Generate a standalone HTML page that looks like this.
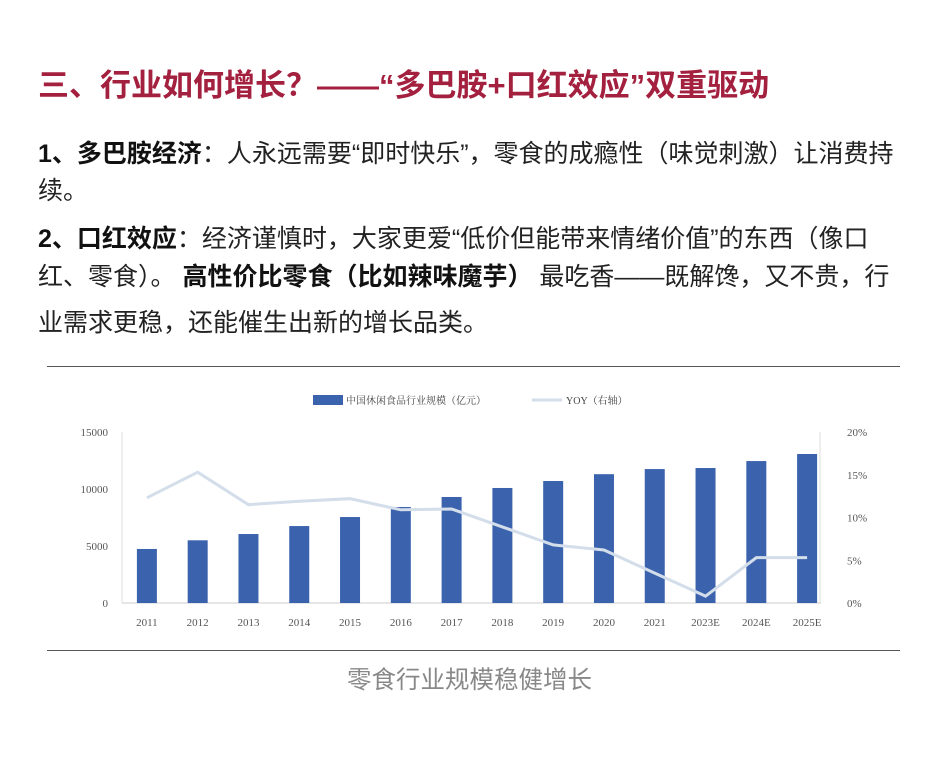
<!DOCTYPE html>
<html><head><meta charset="utf-8"><style>
body{margin:0;width:939px;height:767px;background:#fff;position:relative;overflow:hidden;font-family:"Liberation Sans","Noto Sans CJK SC",sans-serif;}
.t{position:absolute;white-space:nowrap;}
.title{left:38px;top:60px;font-size:31px;font-weight:bold;color:#a3203f;}
.line{left:38px;font-size:25px;color:#222;}
.line b{color:#111}
.rule{position:absolute;left:47px;width:853px;height:1px;background:#555;}
.cap{left:0;width:939px;text-align:center;top:661px;font-size:24.5px;color:#888;}
</style></head><body>
<div class="t title">三、行业如何增长？——“多巴胺+口红效应”双重驱动</div>
<div class="t line" style="top:134px"><b>1、多巴胺经济</b>：人永远需要“即时快乐”，零食的成瘾性（味觉刺激）让消费持</div>
<div class="t line" style="top:171px">续。</div>
<div class="t line" style="top:219px"><b>2、口红效应</b>：经济谨慎时，大家更爱“低价但能带来情绪价值”的东西（像口</div>
<div class="t line" style="top:257px">红、零食）。 <b>高性价比零食（比如辣味魔芋）</b> 最吃香——既解馋，又不贵，行</div>
<div class="t line" style="top:303px">业需求更稳，还能催生出新的增长品类。</div>
<div class="rule" style="top:366px"></div>
<div class="rule" style="top:650px"></div>
<svg id="chart" width="939" height="767" style="position:absolute;left:0;top:0"></svg>
<div class="t cap">零食行业规模稳健增长</div>
<script>
const categories=["2011","2012","2013","2014","2015","2016","2017","2018","2019","2020","2021","2023E","2024E","2025E"];
const sizeValues=[4740,5500,6050,6750,7540,8420,9300,10090,10700,11300,11750,11840,12450,13070];
const yoyValues=[12.3,15.3,11.5,11.9,12.2,10.9,11.0,8.9,6.8,6.2,3.5,0.8,5.3,5.3];
const leftTicks=[0,5000,10000,15000];
const rightTicks=[0,5,10,15,20];
const svg=document.getElementById('chart');const NS='http://www.w3.org/2000/svg';
function mk(tag,attrs,parent){const e=document.createElementNS(NS,tag);for(const k in attrs)e.setAttribute(k,attrs[k]);(parent||svg).appendChild(e);return e;}
const y0=603,yTop=432,x0=122,x1=833;
const yL=v=>y0-(v/15000)*(y0-yTop);
const yR=v=>y0-(v/20)*(y0-yTop);
const step=(x1-x0)/categories.length;
const xC=i=>x0+step*(i+0.5)-0.5;
const font='"Liberation Serif","Noto Serif CJK SC",serif';
let a=mk('line',{x1:x0,y1:y0,x2:x1-12,y2:y0,stroke:'#ccc'});

a=mk('line',{x1:x0,y1:yTop,x2:x0,y2:y0,stroke:'#ddd'});

a=mk('line',{x1:820,y1:yTop,x2:820,y2:y0,stroke:'#ddd'});

leftTicks.forEach(v=>{const t=mk('text',{x:108,y:yL(v)+4,'text-anchor':'end','font-size':11,fill:'#555','font-family':font});t.textContent=v;
});
rightTicks.forEach(v=>{const t=mk('text',{x:847,y:yR(v)+4,'font-size':11,fill:'#555','font-family':font});t.textContent=v+'%';
});
categories.forEach((c,i)=>{
const r=mk('rect',{x:xC(i)-10,y:yL(sizeValues[i]),width:20,height:y0-yL(sizeValues[i]),fill:'#3b62ad'});

const t=mk('text',{x:xC(i),y:626,'text-anchor':'middle','font-size':11,fill:'#555','font-family':font});t.textContent=c;
});
const pl=mk('polyline',{points:yoyValues.map((v,i)=>xC(i)+','+yR(v)).join(' '),fill:'none',stroke:'#d3deea','stroke-width':3});

let l=mk('rect',{x:313,y:395,width:30,height:10,fill:'#3b62ad'});

l=mk('text',{x:346,y:404,'font-size':10,fill:'#444','font-family':font});l.textContent='中国休闲食品行业规模（亿元）';

l=mk('line',{x1:532,y1:400,x2:562,y2:400,stroke:'#d3deea','stroke-width':3});

l=mk('text',{x:566,y:404,'font-size':10,fill:'#444','font-family':font});l.textContent='YOY（右轴）';

</script>
</body></html>
